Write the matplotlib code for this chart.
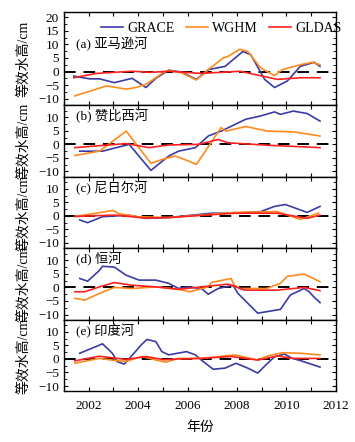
import matplotlib
matplotlib.use("Agg")
import matplotlib.pyplot as plt
from matplotlib.ticker import MultipleLocator

plt.rcParams['font.family'] = ['Liberation Serif', 'Noto Sans CJK SC']
plt.rcParams['font.size'] = 9

series_names = ["GRACE", "WGHM", "GLDAS"]
colors = ["#3b3ba6", "#ff8a1c", "#ff2020"]
panel_labels = ["(a) 亚马逊河", "(b) 赞比西河", "(c) 尼日尔河", "(d) 恒河", "(e) 印度河"]
ylabel = "等效水高/cm"
xlabel = "年份"
xticks = [2002, 2004, 2006, 2008, 2010, 2012]

# Panel a
a_grace_x = [2001.4, 2002.04, 2002.44, 2003.04, 2003.76, 2004.32, 2004.72, 2005.24, 2005.76, 2006.36, 2006.84, 2007.52, 2008.24, 2008.56, 2009.12, 2009.52, 2010.04, 2010.56, 2011.12, 2011.36]
a_grace_y = [-1.7, -2.7, -2.7, -4.1, -2.5, -5.9, -2.5, 0.5, -0.2, -2.9, 0.7, 1.9, 7.4, 6.2, -2.9, -5.9, -3.5, 1.9, 3.4, 1.9]
a_wghm_x = [2001.44, 2002.72, 2003.52, 2003.92, 2004.32, 2004.6, 2005.0, 2005.24, 2005.76, 2006.36, 2006.84, 2007.44, 2007.64, 2008.12, 2008.44, 2008.96, 2009.52, 2009.84, 2010.56, 2011.04, 2011.36]
a_wghm_y = [-9.0, -5.3, -6.5, -5.9, -4.7, -3.0, -0.5, 0.5, -0.5, -3.1, 0.7, 5.0, 5.6, 8.2, 7.4, 1.3, -1.5, 0.7, 2.5, 3.4, 2.5]
a_gldas_x = [2001.4, 2002.3, 2003.76, 2004.5, 2005.24, 2006.56, 2008.12, 2009.64, 2010.56, 2011.36]
a_gldas_y = [-2.3, -0.7, 0.1, -0.3, 0.1, -0.7, 0.1, -2.9, -2.3, -2.3]

# Panel b
b_grace_x = [2001.64, 2002.56, 2003.64, 2004.52, 2005.24, 2005.64, 2006.32, 2006.84, 2007.36, 2008.36, 2008.96, 2009.52, 2009.76, 2010.28, 2010.84, 2011.36]
b_grace_y = [-2.5, -2.5, 0.0, -9.6, -4.3, -2.5, -1.2, 3.1, 4.9, 9.3, 10.5, 12.0, 11.1, 12.3, 11.4, 8.6]
b_wghm_x = [2001.44, 2002.44, 2003.52, 2004.52, 2005.0, 2005.5, 2006.0, 2006.36, 2006.72, 2007.36, 2007.56, 2008.36, 2009.24, 2010.32, 2011.36]
b_wghm_y = [-4.1, -2.5, 4.9, -7.0, -5.5, -4.3, -6.0, -7.4, -2.5, 6.2, 4.9, 6.6, 4.9, 4.6, 3.1]
b_gldas_x = [2001.44, 2003.52, 2004.44, 2005.24, 2006.44, 2007.24, 2007.64, 2009.24, 2011.36]
b_gldas_y = [-1.2, 0.3, -1.2, -0.2, 0.0, 1.8, 0.6, -0.3, -1.2]

# Panel c
c_grace_x = [2001.64, 2001.96, 2002.56, 2003.6, 2004.32, 2005.24, 2006.96, 2007.92, 2008.96, 2009.52, 2009.96, 2010.84, 2011.36]
c_grace_y = [-1.5, -2.5, -0.3, 0.3, -0.9, -0.6, 1.0, 1.0, 1.6, 3.5, 4.2, 1.3, 3.5]
c_wghm_x = [2001.44, 2002.44, 2002.96, 2003.24, 2004.0, 2005.24, 2007.92, 2009.64, 2010.56, 2011.3]
c_wghm_y = [-0.2, 1.2, 2.0, 0.8, -0.3, -0.6, 1.3, 1.6, -1.3, 1.0]
c_gldas_x = [2001.44, 2003.04, 2004.32, 2005.24, 2007.92, 2009.64, 2010.84, 2011.36]
c_gldas_y = [-0.2, 0.3, -0.8, -0.6, 1.0, 1.0, -0.9, 0.3]

# Panel d
d_grace_x = [2001.64, 2001.96, 2002.44, 2002.56, 2003.04, 2003.52, 2004.04, 2004.72, 2005.24, 2005.64, 2006.0, 2006.56, 2006.84, 2007.24, 2007.84, 2008.04, 2008.84, 2009.24, 2009.76, 2010.16, 2010.72, 2010.92, 2011.1, 2011.36]
d_grace_y = [3.3, 2.3, 6.3, 7.8, 7.5, 4.5, 2.7, 2.7, 1.5, -0.4, 0.2, -0.4, -2.5, -0.4, 0.8, -2.2, -9.5, -8.9, -8.1, -2.8, -0.4, -1.6, -3.4, -5.6]
d_wghm_x = [2001.44, 2001.84, 2002.44, 2003.04, 2003.76, 2004.72, 2005.64, 2006.1, 2006.84, 2006.96, 2007.76, 2007.9, 2008.1, 2009.2, 2009.76, 2010.04, 2010.72, 2010.96, 2011.36]
d_wghm_y = [-4.0, -4.7, -2.2, 0.0, -0.4, 0.2, -0.7, -1.6, 0.2, 1.8, 3.3, 0.8, -0.4, -0.4, 1.5, 4.1, 4.9, 3.9, 2.1]
d_gldas_x = [2001.44, 2001.84, 2002.44, 2003.04, 2003.76, 2004.72, 2005.64, 2006.56, 2007.64, 2008.32, 2009.64, 2010.72, 2011.36]
d_gldas_y = [-1.6, -1.6, 0.2, 1.8, 0.8, 0.2, -0.7, 0.2, 1.2, -1.0, -1.0, 0.0, -1.2]

# Panel e
e_grace_x = [2001.64, 2002.44, 2002.56, 2002.96, 2003.16, 2003.44, 2003.72, 2004.12, 2004.36, 2004.72, 2004.96, 2005.24, 2005.96, 2006.32, 2006.56, 2007.04, 2007.52, 2007.96, 2008.44, 2008.84, 2009.24, 2009.52, 2009.92, 2010.24, 2010.56, 2010.96, 2011.36]
e_grace_y = [2.1, 5.1, 5.6, 2.1, -1.0, -1.9, 0.9, 5.1, 7.2, 6.4, 2.7, 1.5, 2.7, 1.5, -0.4, -3.8, -3.4, -1.6, -3.4, -5.2, -1.6, 0.8, 1.8, 0.2, -0.6, -1.8, -3.0]
e_wghm_x = [2001.44, 2002.44, 2003.08, 2003.52, 2004.16, 2004.72, 2005.12, 2005.64, 2006.56, 2007.92, 2008.84, 2009.24, 2009.84, 2010.56, 2011.36]
e_wghm_y = [-1.6, 0.2, -0.6, -0.9, 0.9, -0.4, -1.2, 0.2, 0.2, 1.5, -0.4, 1.1, 2.3, 2.1, 1.5]
e_gldas_x = [2001.44, 2002.44, 2003.52, 2004.32, 2005.04, 2005.64, 2006.56, 2007.76, 2008.84, 2009.64, 2010.24, 2011.36]
e_gldas_y = [-0.7, 1.0, -0.2, 0.9, -0.3, 0.0, 0.2, 0.9, -0.4, 1.1, 0.2, 0.2]

panels = [
    [(a_grace_x, a_grace_y), (a_wghm_x, a_wghm_y), (a_gldas_x, a_gldas_y)],
    [(b_grace_x, b_grace_y), (b_wghm_x, b_wghm_y), (b_gldas_x, b_gldas_y)],
    [(c_grace_x, c_grace_y), (c_wghm_x, c_wghm_y), (c_gldas_x, c_gldas_y)],
    [(d_grace_x, d_grace_y), (d_wghm_x, d_wghm_y), (d_gldas_x, d_gldas_y)],
    [(e_grace_x, e_grace_y), (e_wghm_x, e_wghm_y), (e_gldas_x, e_gldas_y)],
]

fig = plt.figure(figsize=(3.55, 4.42), dpi=100)
gs = fig.add_gridspec(5, 1, height_ratios=[34.4, 26.4, 26.4, 26.4, 26.4],
                      left=0.18, right=0.946, top=0.973, bottom=0.115, hspace=0)
axes = [fig.add_subplot(gs[i]) for i in range(5)]

for i, ax in enumerate(axes):
    ax.axhline(0, color="black", lw=1.4, ls=(0, (6, 4)), zorder=1)
    handles = []
    for (xs, ys), name, c in zip(panels[i], series_names, colors):
        h, = ax.plot(xs, ys, color=c, lw=1.2, label=name, zorder=2)
        handles.append(h)
    ax.set_xlim(2001, 2012)
    if i == 0:
        ax.set_ylim(-12.4, 22)
        ax.set_yticks([-10, -5, 0, 5, 10, 15, 20])
        ax.legend(handles=handles, loc="upper center", ncol=3, frameon=False,
                  handlelength=1.6, handletextpad=0.3, columnspacing=0.8,
                  bbox_to_anchor=(0.58, 1.03), fontsize=10)
        ax.text(0.045, 0.655, panel_labels[i], transform=ax.transAxes, fontsize=9.5, va="center")
    else:
        ax.set_ylim(-11.9, 14.5)
        ax.set_yticks([-10, -5, 0, 5, 10])
        ax.text(0.045, 0.84, panel_labels[i], transform=ax.transAxes, fontsize=9.5, va="center")
    ax.yaxis.set_minor_locator(MultipleLocator(2.5))
    ax.xaxis.set_major_locator(MultipleLocator(1))
    ax.tick_params(which="both", direction="in", top=True, right=True, labelsize=9.5)
    ax.tick_params(which="major", length=3)
    ax.tick_params(which="minor", length=2)
    ax.tick_params(axis="x", pad=6)
    ax.set_ylabel(ylabel, fontsize=10, labelpad=6)
    if i < 4:
        ax.tick_params(labelbottom=False)
    else:
        ax.set_xticks(list(range(2001, 2013)))
        ax.set_xticklabels([str(y) if y in xticks else "" for y in range(2001, 2013)])
        ax.set_xlabel(xlabel, fontsize=10, labelpad=7)
    for s in ax.spines.values():
        s.set_linewidth(1.0)

fig.align_ylabels(axes)
fig.savefig("out.png", dpi=100)
